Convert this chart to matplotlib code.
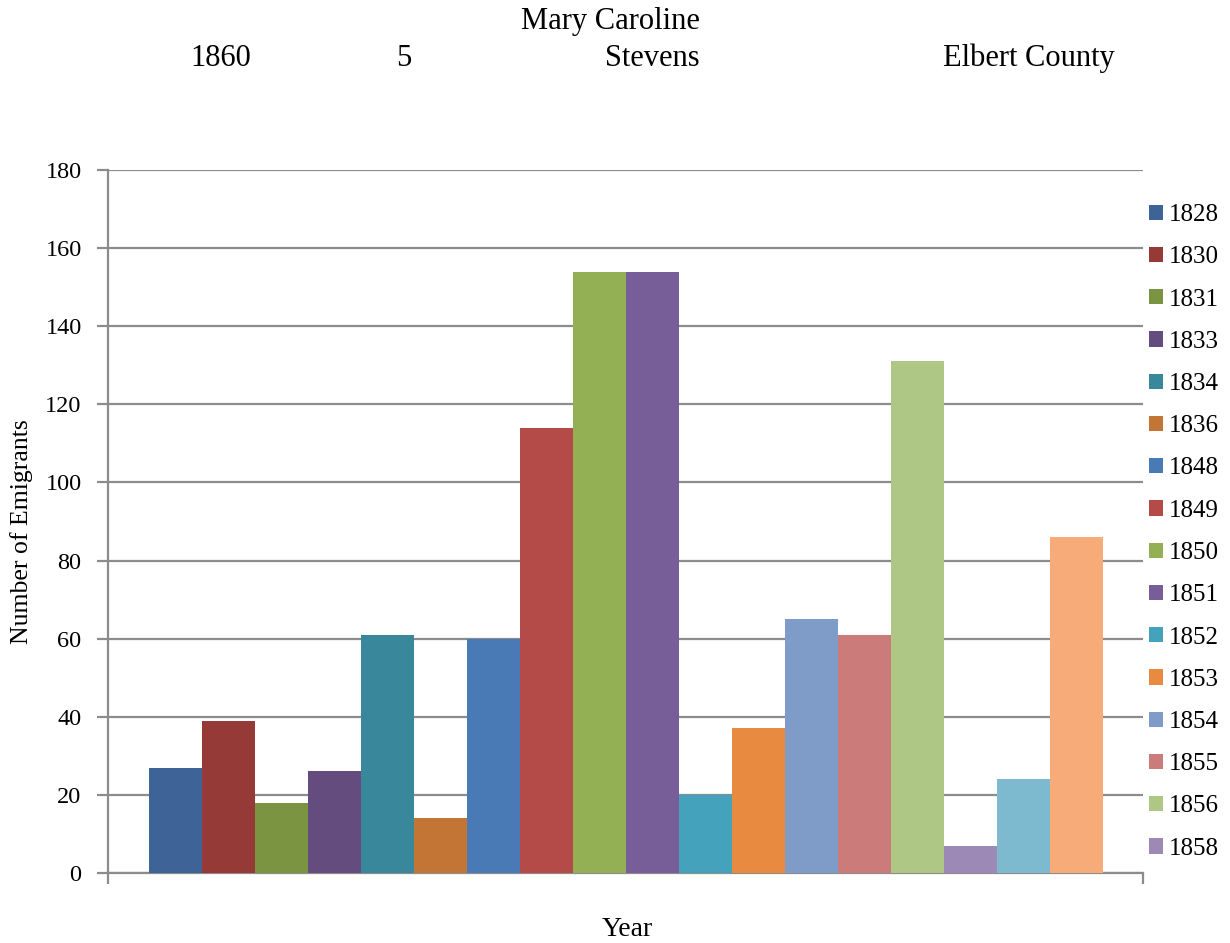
import matplotlib
matplotlib.use("Agg")
import matplotlib.pyplot as plt
import numpy as np

years = ["1828", "1830", "1831", "1833", "1834", "1836", "1848", "1849", "1850",
         "1851", "1852", "1853", "1854", "1855", "1856", "1858", "1859", "1860"]
emigrants = [27, 39, 18, 26, 61, 14, 60, 114, 154, 154, 20, 37, 65, 61, 131, 7, 24, 86]
colors = ["#3E6497", "#963A38", "#7A9441", "#644D7E", "#38879A", "#C37535",
          "#4A7AB5", "#B54B48", "#93B055", "#775E99", "#45A2BC", "#E88B40",
          "#7F9CC8", "#CB7C7A", "#AFC785", "#9C89B5", "#7DB9CF", "#F7AB79"]
legend_count = 16
title_top = "Mary Caroline"
title_parts = ["1860", "5", "Stevens", "Elbert County"]

plt.rcParams['font.family'] = ['Liberation Serif', 'DejaVu Serif']

W, H = 1230, 943
fig = plt.figure(figsize=(W / 100, H / 100), dpi=100)
ax = fig.add_axes([108 / W, 1 - 873 / H, (1143 - 108) / W, (873 - 170) / H])

gap = 0.77
n = len(years)
handles = []
for i, (y, v, c) in enumerate(zip(years, emigrants, colors)):
    b = ax.bar(i, v, width=1.0, align='edge', color=c, label=y, zorder=3)
    handles.append(b)

ax.set_xlim(-gap, n + gap - 0.02)
ax.set_ylim(0, 180)
ax.set_yticks(np.arange(0, 181, 20))
ax.yaxis.grid(True, color="#8C8C8C", linewidth=1.6, zorder=0)
ax.set_axisbelow(True)
ax.set_xticks(ax.get_xlim())
ax.set_xticklabels([])
for s in ["top", "right"]:
    ax.spines[s].set_visible(False)
for s in ["left", "bottom"]:
    ax.spines[s].set_color("#8C8C8C")
    ax.spines[s].set_linewidth(1.6)
ax.tick_params(axis='both', direction='out', length=8, width=1.6, color="#8C8C8C",
               labelsize=17.5)
ax.tick_params(axis='y', pad=11)

fig.text(22 / W, 1 - 532 / H, "Number of Emigrants", rotation=90,
         ha='center', va='center', fontsize=18.5)
fig.text(627 / W, 1 - 929 / H, "Year", ha='center', va='center', fontsize=20)

leg = ax.legend(handles=handles[:legend_count], labels=years[:legend_count],
                loc='upper left', bbox_to_anchor=(1149 / W, 1 - 204 / H),
                bbox_transform=fig.transFigure, frameon=False, fontsize=18,
                handlelength=0.56, handleheight=0.56, handletextpad=0.24,
                labelspacing=0.81, borderpad=0, borderaxespad=0)

fig.text(700 / W, 1 - 21 / H, title_top, ha='right', va='center', fontsize=22)
fig.text(221 / W, 1 - 58 / H, title_parts[0], ha='center', va='center', fontsize=22)
fig.text(404 / W, 1 - 58 / H, title_parts[1], ha='center', va='center', fontsize=22)
fig.text(700 / W, 1 - 58 / H, title_parts[2], ha='right', va='center', fontsize=22)
fig.text(1029 / W, 1 - 58 / H, title_parts[3], ha='center', va='center', fontsize=22)

fig.savefig("out.png", dpi=100)
